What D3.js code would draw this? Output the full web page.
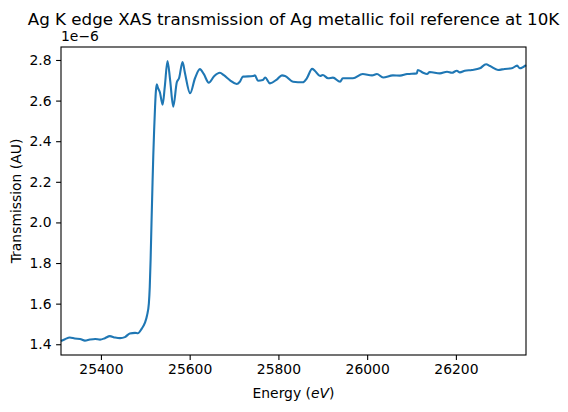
<!DOCTYPE html>
<html>
<head>
<meta charset="utf-8">
<script src="https://cdn.jsdelivr.net/npm/d3@7"></script>
<style>
  body { margin: 0; background: #fff; }
  text { font-family: "DejaVu Sans", sans-serif; fill: #000; }
</style>
</head>
<body>
<div id="chart"></div>
<script>
"use strict";

// Energy (eV) and transmission (units of 1e-6)
const energy = [
	25310, 25319, 25330, 25341, 25353, 25364, 25375, 25387, 25398, 25409,
	25420, 25432, 25443, 25454, 25465, 25477, 25483, 25492, 25499, 25504,
	25508, 25510, 25512, 25514, 25516, 25518, 25520, 25522, 25524, 25526,
	25528, 25533, 25539, 25544, 25550, 25556, 25563, 25571, 25576, 25584,
	25589, 25601, 25612, 25623, 25632, 25643, 25655, 25668, 25677, 25691,
	25706, 25713, 25720, 25743, 25747, 25754, 25765, 25770, 25781, 25797,
	25808, 25815, 25833, 25855, 25864, 25876, 25882, 25894, 25900, 25912,
	25923, 25939, 25945, 25968, 25990, 26011, 26022, 26036, 26058, 26074,
	26090, 26112, 26114, 26126, 26135, 26141, 26164, 26180, 26191, 26202,
	26209, 26220, 26236, 26254, 26268, 26277, 26295, 26310, 26326, 26338,
	26344, 26358
];
const transmission = [
	1.416, 1.425, 1.433, 1.428, 1.426, 1.418, 1.423, 1.426, 1.423, 1.430,
	1.440, 1.433, 1.430, 1.435, 1.453, 1.456, 1.454, 1.477, 1.505, 1.543,
	1.600, 1.680, 1.820, 2.000, 2.170, 2.330, 2.460, 2.570, 2.650, 2.680,
	2.665, 2.640, 2.580, 2.670, 2.795, 2.700, 2.570, 2.690, 2.710, 2.790,
	2.740, 2.636, 2.710, 2.755, 2.730, 2.688, 2.720, 2.737, 2.725, 2.700,
	2.682, 2.693, 2.718, 2.721, 2.724, 2.698, 2.701, 2.714, 2.685, 2.705,
	2.724, 2.721, 2.693, 2.690, 2.710, 2.756, 2.747, 2.721, 2.726, 2.710,
	2.713, 2.693, 2.710, 2.710, 2.731, 2.724, 2.731, 2.714, 2.724, 2.723,
	2.731, 2.734, 2.751, 2.737, 2.731, 2.741, 2.734, 2.742, 2.737, 2.747,
	2.739, 2.747, 2.751, 2.759, 2.779, 2.770, 2.751, 2.756, 2.759, 2.772,
	2.759, 2.775
];
const xTicks = [25400, 25600, 25800, 26000, 26200];
const yTicks = [1.4, 1.6, 1.8, 2.0, 2.2, 2.4, 2.6, 2.8];

const width = 568, height = 412;
const margin = { left: 61, right: 42, top: 47, bottom: 57 };

const points = energy.map((e, i) => ({ e: e, t: transmission[i] }));

let svg = d3.select('#chart').append('svg')
	.attr('width', width)
	.attr('height', height);

//  Scales (matplotlib style 5% margin on y, tight on x)
const tMin = d3.min(transmission), tMax = d3.max(transmission);
const pad = (tMax - tMin) * 0.05;

let x = d3.scaleLinear()
	.domain(d3.extent(energy))
	.range([margin.left, width - margin.right]);

let y = d3.scaleLinear()
	.domain([tMin - pad, tMax + pad])
	.range([height - margin.bottom, margin.top]);

//  Axes
let xAxis = svg.append('g')
	.attr('transform', `translate(0, ${height - margin.bottom})`)
	.call(d3.axisBottom(x).tickValues(xTicks).tickFormat(d3.format('d')).tickSize(4.9).tickPadding(4.5));

let yAxis = svg.append('g')
	.attr('transform', `translate(${margin.left}, 0)`)
	.call(d3.axisLeft(y).tickValues(yTicks).tickFormat(d3.format('.1f')).tickSize(4.9).tickPadding(4.5));

[xAxis, yAxis].forEach(axis => {
	axis.select('.domain').remove();
	axis.selectAll('.tick line').attr('stroke', '#000').attr('stroke-width', 1.1);
	axis.selectAll('.tick text').style('font-size', '13.9px');
});

//  Data line
svg.append('path')
	.datum(points)
	.attr('fill', 'none')
	.attr('stroke', '#1f77b4')
	.attr('stroke-width', 2.1)
	.attr('stroke-linejoin', 'round')
	.attr('d', d3.line()
		.x(p => x(p.e))
		.y(p => y(p.t))
		.curve(d3.curveMonotoneX));

//  Frame
svg.append('rect')
	.attr('x', margin.left)
	.attr('y', margin.top)
	.attr('width', width - margin.left - margin.right)
	.attr('height', height - margin.top - margin.bottom)
	.attr('fill', 'none')
	.attr('stroke', '#000')
	.attr('stroke-width', 1.1);

//  Texts
svg.append('text')
	.attr('x', margin.left)
	.attr('y', margin.top - 6)
	.style('font-size', '13.9px')
	.text('1e\u22126');

svg.append('text')
	.attr('x', (margin.left + width - margin.right) / 2)
	.attr('y', 25)
	.attr('text-anchor', 'middle')
	.style('font-size', '16.7px')
	.text('Ag K edge XAS transmission of Ag metallic foil reference at 10K');

let xLabel = svg.append('text')
	.attr('x', (margin.left + width - margin.right) / 2)
	.attr('y', 398)
	.attr('text-anchor', 'middle')
	.style('font-size', '13.9px');
xLabel.append('tspan').text('Energy (');
xLabel.append('tspan').style('font-style', 'italic').text('eV');
xLabel.append('tspan').text(')');

svg.append('text')
	.attr('transform', `translate(21, ${(margin.top + height - margin.bottom) / 2}) rotate(-90)`)
	.attr('text-anchor', 'middle')
	.style('font-size', '13.9px')
	.text('Transmission (AU)');
</script>
</body>
</html>
